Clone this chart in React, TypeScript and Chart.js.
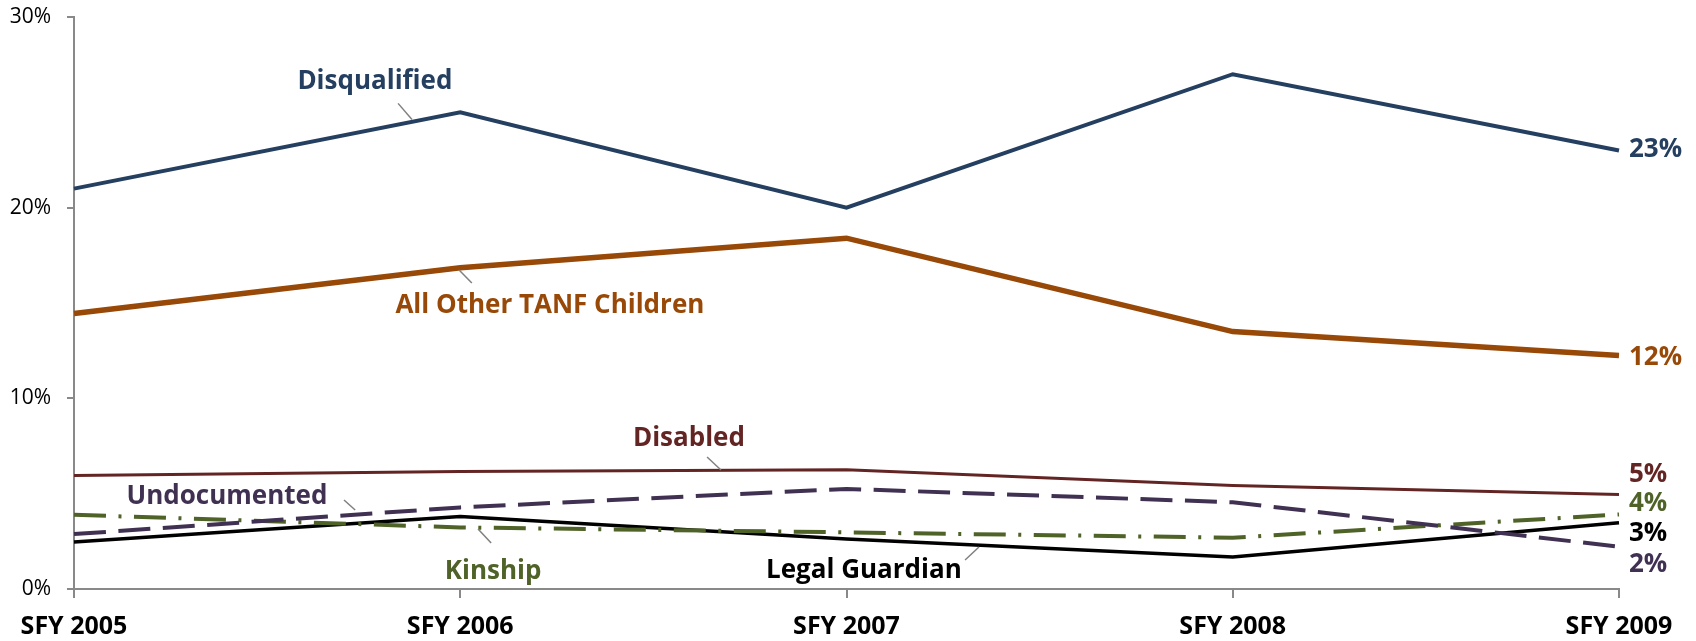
import React, { useEffect, useRef } from 'react';
import { Chart, registerables } from 'chart.js';

Chart.register(...registerables);

// ---- data ----
const categories = ['SFY 2005', 'SFY 2006', 'SFY 2007', 'SFY 2008', 'SFY 2009'];
const disqualified = [21.0, 25.0, 20.0, 27.0, 23.0];
const allOtherTanf = [14.45, 16.85, 18.4, 13.5, 12.25];
const disabled = [5.95, 6.16, 6.25, 5.43, 4.96];
const undocumented = [2.88, 4.28, 5.25, 4.55, 2.22];
const kinship = [3.89, 3.23, 2.97, 2.69, 3.91];
const legalGuardian = [2.46, 3.8, 2.62, 1.68, 3.47];
const yTickValues = [0, 10, 20, 30];
const seriesNames = ['Disqualified', 'All Other TANF Children', 'Disabled', 'Undocumented', 'Kinship', 'Legal Guardian'];

// ---- styles ----
const colors = ['#243F60', '#984807', '#632523', '#403152', '#4F6228', '#000000'];
const widths = [4, 5.5, 3, 4, 4, 3.5];
const dashes: number[][] = [[], [], [], [32, 12.5], [32, 12.5, 3, 12.5], []];

// ---- annotation placement (category index units, value units) ----
const labelPos = [
  { x: 0.779, y: 26.72, leader: [0.839, 25.47, 0.875, 24.63] },
  { x: 1.232, y: 14.94, leader: [0.997, 16.73, 1.03, 16.05] },
  { x: 1.592, y: 7.97, leader: [1.639, 6.92, 1.675, 6.24] },
  { x: 0.396, y: 4.93, leader: [0.699, 4.67, 0.728, 4.14] },
  { x: 1.085, y: 1.0, leader: [1.046, 3.15, 1.08, 2.41] },
  { x: 2.045, y: 1.05, leader: [2.307, 1.52, 2.343, 2.2] },
];
// end-label vertical positions, in series order
const endLabelY = [23.17, 12.22, 6.08, 1.36, 4.56, 2.99];

const FONT = '"Open Sans", Lato, sans-serif';

const labelPlugin = {
  id: 'seriesLabels',
  afterDatasetsDraw(chart: any) {
    const { ctx, chartArea } = chart;
    const ys = chart.scales.y;
    const n = categories.length;
    const px = (i: number) => chartArea.left + ((chartArea.right - chartArea.left) * i) / (n - 1);
    const py = (v: number) => ys.getPixelForValue(v);
    ctx.save();
    ctx.strokeStyle = '#808080';
    ctx.lineWidth = 1.5;
    ctx.setLineDash([]);
    labelPos.forEach((a) => {
      ctx.beginPath();
      ctx.moveTo(px(a.leader[0]), py(a.leader[1]));
      ctx.lineTo(px(a.leader[2]), py(a.leader[3]));
      ctx.stroke();
    });
    const size = 26;
    ctx.font = `bold ${size}px ${FONT}`;
    ctx.textBaseline = 'alphabetic';
    ctx.textAlign = 'center';
    labelPos.forEach((a, i) => {
      ctx.fillStyle = colors[i];
      ctx.fillText(seriesNames[i], px(a.x), py(a.y) + size * 0.357);
    });
    const series = [disqualified, allOtherTanf, disabled, undocumented, kinship, legalGuardian];
    const endSize = 26;
    ctx.font = `bold ${endSize}px ${FONT}`;
    ctx.textAlign = 'left';
    series.forEach((s, i) => {
      ctx.fillStyle = colors[i];
      ctx.fillText(Math.round(s[s.length - 1]) + '%', chartArea.right + 10, py(endLabelY[i]) + endSize * 0.357);
    });
    ctx.restore();
  },
};

export default function App() {
  const ref = useRef<HTMLCanvasElement | null>(null);
  useEffect(() => {
    if (!ref.current) return;
    const series = [disqualified, allOtherTanf, disabled, undocumented, kinship, legalGuardian];
    const chart = new Chart(ref.current, {
      type: 'line',
      data: {
        labels: categories,
        datasets: series.map((d, i) => ({
          label: seriesNames[i],
          data: d,
          borderColor: colors[i],
          backgroundColor: colors[i],
          borderWidth: widths[i],
          borderDash: dashes[i],
          borderCapStyle: 'butt',
          borderJoinStyle: 'miter',
          pointRadius: 0,
          tension: 0,
          fill: false,
        })),
      },
      options: {
        responsive: false,
        animation: false,
        devicePixelRatio: 1,
        layout: { padding: { left: 0, right: 77, top: 17, bottom: 0 } },
        plugins: { legend: { display: false }, tooltip: { enabled: false } },
        scales: {
          x: {
            type: 'category',
            offset: false,
            grid: { display: true, drawOnChartArea: false, drawTicks: true, tickLength: 9, color: '#898989', lineWidth: 2, offset: false },
            border: { display: true, color: '#898989', width: 2 },
            ticks: { color: '#000', font: { family: FONT, size: 25, weight: 'bold' }, padding: 14, maxRotation: 0, autoSkip: false },
            afterFit: (s: any) => { s.height = 52; s.paddingLeft = 0; s.paddingRight = 0; },
          },
          y: {
            min: 0,
            max: 30,
            afterBuildTicks: (s: any) => { s.ticks = yTickValues.map((v) => ({ value: v })); },
            grid: { display: true, drawOnChartArea: false, drawTicks: true, tickLength: 7, color: '#898989', lineWidth: 2 },
            border: { display: true, color: '#898989', width: 2 },
            ticks: { color: '#000', font: { family: FONT, size: 21 }, padding: 16, callback: (v: any) => v + '%' },
            afterFit: (s: any) => { s.width = 74; s.paddingTop = 0; s.paddingBottom = 0; },
          },
        },
      },
      plugins: [labelPlugin],
    } as any);
    return () => chart.destroy();
  }, []);
  return (
    <div style={{ position: 'absolute', left: 0, top: 0, width: 1696, height: 641, background: '#fff' }}>
      <canvas ref={ref} width={1696} height={641} style={{ display: 'block', width: 1696, height: 641 }} />
    </div>
  );
}
